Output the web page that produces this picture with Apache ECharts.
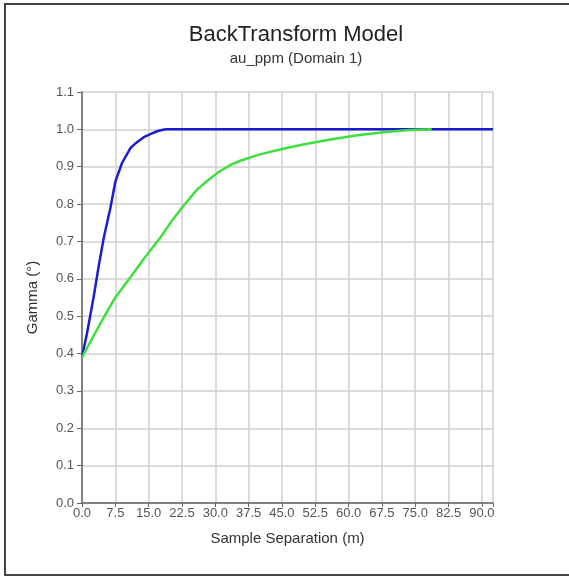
<!DOCTYPE html>
<html>
<head>
<meta charset="utf-8">
<script src="https://cdn.jsdelivr.net/npm/echarts@6/dist/echarts.min.js"></script>
<style>
  html, body { margin: 0; padding: 0; background: #fff; }
  #chart { width: 569px; height: 577px; }
</style>
</head>
<body>
<div id="chart"></div>
<script>
// datos del variograma
let blueX = [0, 1.1, 2.6, 3.7, 4.9, 6.4, 7.5, 9.0, 10.9, 12.3, 13.9, 15.5, 16.9, 18.2, 19.1, 92.5];
let blueY = [0.39, 0.453, 0.55, 0.63, 0.71, 0.79, 0.86, 0.91, 0.95, 0.965, 0.979, 0.988, 0.995, 0.999, 1.0, 1.0];

let greenX = [0, 2.5, 4.9, 7.5, 10.9, 14, 17.6, 20.2, 22.8, 26, 28.5, 31, 33.5, 35.6, 40, 45.3, 50, 56.6, 62, 67.8, 73.8, 78.7];
let greenY = [0.39, 0.445, 0.497, 0.55, 0.604, 0.655, 0.71, 0.755, 0.795, 0.84, 0.865, 0.888, 0.905, 0.916, 0.933, 0.948, 0.96, 0.974, 0.984, 0.992, 0.998, 1.0];

let xTicks = [0, 7.5, 15, 22.5, 30, 37.5, 45, 52.5, 60, 67.5, 75, 82.5, 90];

let pares = (xs, ys) => xs.map((x, i) => [x, ys[i]]);

let chart = echarts.init(document.getElementById('chart'));

let option = {
    backgroundColor: '#fff',
    animation: false,
    title: [{
        text: 'BackTransform Model',
        left: 291,
        top: 19,
        textAlign: 'center',
        textStyle: { fontFamily: 'Liberation Sans', fontSize: 22, fontWeight: 'normal', color: '#222' }
    }, {
        text: 'au_ppm (Domain 1)',
        left: 291,
        top: 46,
        textAlign: 'center',
        textStyle: { fontFamily: 'Liberation Sans', fontSize: 15, fontWeight: 'normal', color: '#333' }
    }],
    graphic: [{
        type: 'polyline',
        shape: { points: [[580, 4], [5, 4], [5, 575], [580, 575]] },
        style: { stroke: '#444', lineWidth: 2, fill: null }
    }],
    grid: { left: 82, right: 76, top: 92, bottom: 74 },
    xAxis: {
        type: 'value',
        min: 0,
        max: 92.5,
        interval: 7.5,
        name: 'Sample Separation (m)',
        nameLocation: 'middle',
        nameGap: 28,
        nameTextStyle: { fontFamily: 'Liberation Sans', fontSize: 15, color: '#333' },
        axisLine: { show: true, lineStyle: { color: '#666', width: 1.5 } },
        axisTick: { show: true, length: 4, lineStyle: { color: '#666' } },
        axisLabel: {
            margin: 4,
            fontFamily: 'Liberation Sans',
            fontSize: 13,
            color: '#555',
            formatter: (v) => xTicks.indexOf(v) >= 0 ? v.toFixed(1) : ''
        },
        splitLine: { show: true, lineStyle: { color: '#cfcfcf', width: 1.5 } }
    },
    yAxis: {
        type: 'value',
        min: 0,
        max: 1.1,
        interval: 0.1,
        name: 'Gamma (°)',
        nameLocation: 'middle',
        nameGap: 42,
        nameTextStyle: { fontFamily: 'Liberation Sans', fontSize: 15, color: '#333' },
        axisLine: { show: true, lineStyle: { color: '#666', width: 1.5 } },
        axisTick: { show: true, length: 5, lineStyle: { color: '#666' } },
        axisLabel: {
            margin: 8,
            fontFamily: 'Liberation Sans',
            fontSize: 13,
            color: '#555',
            formatter: (v) => v.toFixed(1)
        },
        splitLine: { show: true, lineStyle: { color: '#cfcfcf', width: 1.5 } }
    },
    series: [{
        name: 'green',
        type: 'line',
        data: pares(greenX, greenY),
        showSymbol: false,
        lineStyle: { color: '#3ee03e', width: 2.5 },
        z: 3
    }, {
        name: 'blue',
        type: 'line',
        data: pares(blueX, blueY),
        showSymbol: false,
        lineStyle: { color: '#1c1cd0', width: 2.5 },
        z: 2
    }]
};

option && chart.setOption(option);
window.addEventListener('resize', chart.resize);
</script>
</body>
</html>
